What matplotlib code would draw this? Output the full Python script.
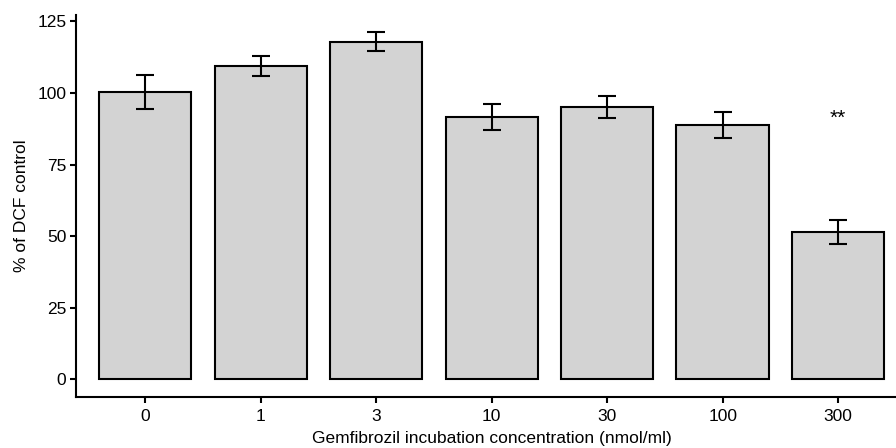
import matplotlib
matplotlib.use("Agg")
import matplotlib.pyplot as plt

categories = ["0", "1", "3", "10", "30", "100", "300"]
means = [100.3, 109.5, 117.8, 91.5, 95.0, 88.7, 51.3]
errors = [5.8, 3.5, 3.3, 4.6, 3.9, 4.5, 4.2]
annot_index = 6
annot_text = "**"
annot_y = 91.0

plt.rcParams['font.family'] = ['Liberation Sans', 'DejaVu Sans']

fig = plt.figure(figsize=(8.96, 4.48), dpi=100)
ax = fig.add_axes([0.0848, 0.1145, 0.928, 0.852])

x = list(range(len(categories)))
ax.bar(x, means, width=0.8, color='#D3D3D3', edgecolor='black', linewidth=1.5, zorder=2)
ax.errorbar(x, means, yerr=errors, fmt='none', ecolor='black', elinewidth=1.5,
            capsize=6.3, capthick=1.5, zorder=3)
ax.text(x[annot_index], annot_y, annot_text, ha='center', va='center', fontsize=15)

ax.set_xlim(-0.6, 6.6)
ax.set_ylim(-6.05, 127.2)
ax.set_yticks([0, 25, 50, 75, 100, 125])
ax.set_xticks(x)
ax.set_xticklabels(categories)
for s in ['top', 'right']:
    ax.spines[s].set_visible(False)
for s in ['left', 'bottom']:
    ax.spines[s].set_linewidth(1.5)
ax.tick_params(axis='both', length=4, width=1.5, labelsize=12.5, colors='black')
ax.tick_params(axis='x', pad=5)
ax.tick_params(axis='y', pad=3)
ax.set_xlabel("Gemfibrozil incubation concentration (nmol/ml)", fontsize=12.5, labelpad=5)
ax.set_ylabel("% of DCF control", fontsize=12.5, labelpad=6)

fig.savefig("out.png", dpi=100)
